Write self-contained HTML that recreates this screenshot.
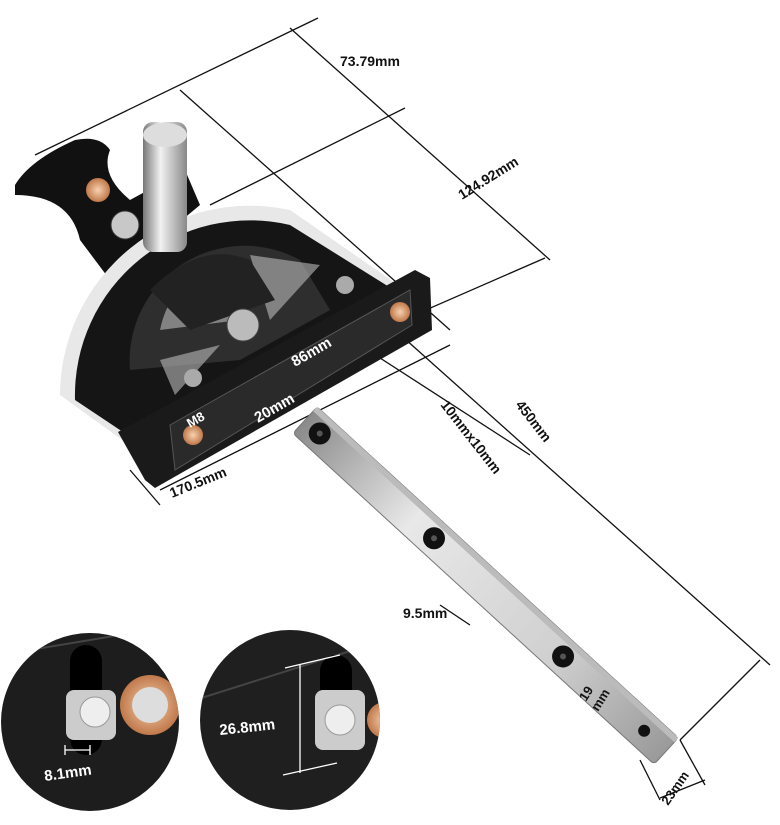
<!DOCTYPE html>
<html><head><meta charset="utf-8"><style>
html,body{margin:0;padding:0;background:#fff;}
svg{display:block;}
text{font-family:"Liberation Sans",sans-serif;font-weight:bold;}
</style></head><body>
<svg width="780" height="825" viewBox="0 0 780 825" xmlns="http://www.w3.org/2000/svg">
<defs>
<linearGradient id="bar" x1="0" y1="0" x2="1" y2="0">
<stop offset="0" stop-color="#8a8a8a"/><stop offset="0.3" stop-color="#e8e8e8"/><stop offset="0.7" stop-color="#d0d0d0"/><stop offset="1" stop-color="#9a9a9a"/></linearGradient>
<linearGradient id="knob" x1="0" y1="0" x2="1" y2="0">
<stop offset="0" stop-color="#777"/><stop offset="0.4" stop-color="#f2f2f2"/><stop offset="1" stop-color="#888"/></linearGradient>
<radialGradient id="cu"><stop offset="0" stop-color="#f6d2b0"/><stop offset="1" stop-color="#c0784a"/></radialGradient>
<clipPath id="c1"><circle cx="90" cy="722" r="89"/></clipPath>
<clipPath id="c2"><circle cx="290" cy="720" r="90"/></clipPath>
</defs>
<g stroke="#111" stroke-width="1.3" fill="none">
<line x1="35" y1="155" x2="318" y2="18"/>
<line x1="290" y1="28" x2="550" y2="260"/>
<line x1="180" y1="90" x2="450" y2="330"/>
<line x1="210" y1="205" x2="405" y2="108"/>
<line x1="380" y1="330" x2="545" y2="258"/>
<line x1="395" y1="330" x2="770" y2="665"/>
<line x1="360" y1="345" x2="530" y2="455"/>
<line x1="760" y1="660" x2="680" y2="740"/>
<line x1="130" y1="470" x2="160" y2="505"/>
<line x1="160" y1="490" x2="450" y2="345"/>
<line x1="640" y1="760" x2="660" y2="800"/>
<line x1="680" y1="740" x2="705" y2="785"/>
<line x1="660" y1="798" x2="705" y2="780"/>
<line x1="440" y1="605" x2="470" y2="625"/>
</g>
<g transform="translate(305,420) rotate(42.5)">
<rect x="0" y="-18" width="490" height="36" rx="4" fill="url(#bar)" stroke="#777"/>
<rect x="0" y="-18" width="490" height="6" fill="#bbb"/>
<circle cx="20" cy="0" r="11" fill="#111"/><circle cx="20" cy="0" r="3" fill="#555"/>
<circle cx="175" cy="0" r="11" fill="#111"/><circle cx="175" cy="0" r="3" fill="#555"/>
<circle cx="350" cy="0" r="11" fill="#111"/><circle cx="350" cy="0" r="3" fill="#555"/>
<circle cx="460" cy="0" r="6" fill="#111"/>
</g>
<path d="M15,185 Q30,160 75,140 Q100,135 110,150 Q100,175 130,200 L185,170 L200,205 L110,280 L80,240 Q70,195 15,195 Z" fill="#111"/>
<circle cx="98" cy="190" r="12" fill="url(#cu)"/>
<circle cx="125" cy="225" r="14" fill="#c8c8c8" stroke="#333"/>
<path d="M60,395 A190,190 0 0 1 290,210 L420,300 L150,460 Z" fill="#e8e8e8"/>
<path d="M75,400 A175,175 0 0 1 290,225 L410,300 L150,450 Z" fill="#151515"/>
<path d="M130,370 A115,115 0 0 1 300,260 L330,310 L240,360 Z" fill="#2e2e2e"/>
<path d="M160,330 Q170,280 220,265 L240,320 Z" fill="#bbb" opacity="0.6"/>
<path d="M250,255 L320,265 L270,320 Z" fill="#bbb" opacity="0.6"/>
<path d="M160,360 L220,345 L175,395 Z" fill="#bbb" opacity="0.6"/>
<path d="M150,290 Q200,240 250,260 L275,300 L190,330 Z" fill="#222"/>
<circle cx="243" cy="325" r="16" fill="#bbb" stroke="#444"/>
<polygon points="118,432 415,270 430,278 432,330 155,488 145,480" fill="#1a1a1a"/>
<polygon points="170,425 410,290 412,325 175,470" fill="#2a2a2a" stroke="#555"/>
<circle cx="193" cy="435" r="10" fill="url(#cu)"/>
<circle cx="400" cy="312" r="10" fill="url(#cu)"/>
<rect x="143" y="122" width="44" height="130" rx="10" fill="url(#knob)"/>
<ellipse cx="165" cy="135" rx="22" ry="12" fill="#ddd"/>
<circle cx="345" cy="285" r="9" fill="#aaa"/>
<circle cx="193" cy="378" r="9" fill="#aaa"/>
<text x="0" y="0" font-size="15" fill="#fff" transform="translate(295,367) rotate(-30)">86mm</text>
<text x="0" y="0" font-size="15" fill="#fff" transform="translate(258,423) rotate(-30)">20mm</text>
<text x="0" y="0" font-size="13" fill="#fff" transform="translate(190,428) rotate(-30)">M8</text>
<text x="340" y="66" font-size="14" fill="#111">73.79mm</text>
<text x="0" y="0" font-size="14" fill="#111" transform="translate(462,200) rotate(-32)">124.92mm</text>
<text x="0" y="0" font-size="14" fill="#111" transform="translate(515,405) rotate(52)">450mm</text>
<text x="0" y="0" font-size="14" fill="#111" transform="translate(440,405) rotate(52)">10mmx10mm</text>
<text x="0" y="0" font-size="14" fill="#111" transform="translate(172,498) rotate(-22)">170.5mm</text>
<text x="403" y="618" font-size="14" fill="#111">9.5mm</text>
<text x="0" y="0" font-size="13" fill="#111" transform="translate(586,702) rotate(-58)">19</text>
<text x="0" y="0" font-size="13" fill="#111" transform="translate(598,712) rotate(-58)">mm</text>
<text x="0" y="0" font-size="13" fill="#111" transform="translate(668,806) rotate(-55)">23mm</text>
<g clip-path="url(#c1)">
<rect x="0" y="630" width="180" height="185" fill="#1d1d1d"/>
<path d="M0,655 L180,625" stroke="#444" stroke-width="2"/>
<rect x="70" y="645" width="32" height="110" rx="16" fill="#000"/>
<rect x="66" y="690" width="50" height="50" rx="8" fill="#ccc"/>
<circle cx="95" cy="712" r="15" fill="#eee" stroke="#999"/>
<circle cx="150" cy="705" r="30" fill="url(#cu)"/>
<circle cx="150" cy="705" r="18" fill="#ddd"/>
<path d="M65,745 v10 M65,750 h25 M90,745 v10" stroke="#fff" stroke-width="1.3"/>
<text x="45" y="781" font-size="15" fill="#fff" transform="rotate(-8 45 781)">8.1mm</text>
</g>
<g clip-path="url(#c2)">
<rect x="195" y="625" width="190" height="190" fill="#1f1f1f"/>
<path d="M195,700 L385,640" stroke="#444" stroke-width="2"/>
<rect x="320" y="655" width="32" height="90" rx="16" fill="#000"/>
<rect x="315" y="690" width="50" height="60" rx="8" fill="#ccc"/>
<circle cx="340" cy="720" r="15" fill="#eee" stroke="#999"/>
<circle cx="385" cy="720" r="18" fill="url(#cu)"/>
<path d="M285,668 L340,655 M300,665 V773 M283,775 L337,763" stroke="#fff" stroke-width="1.3"/>
<text x="220" y="735" font-size="15" fill="#fff" transform="rotate(-6 220 735)">26.8mm</text>
</g>
</svg>
</body></html>
